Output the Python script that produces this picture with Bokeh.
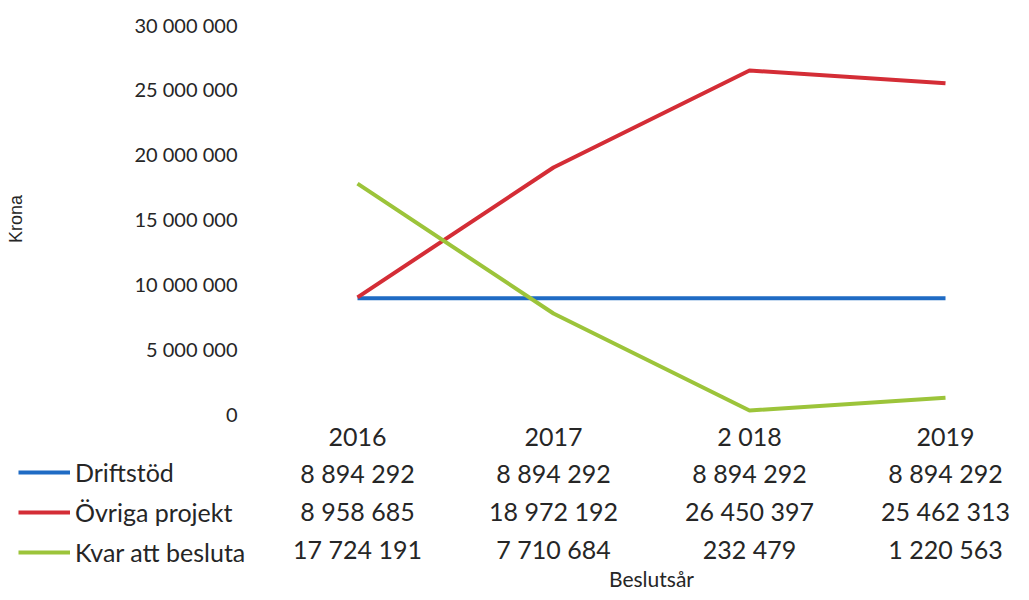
from bokeh.plotting import figure
from bokeh.models import (Range1d, ColumnDataSource, Legend, LegendItem, FixedTicker,
                          LinearAxis)
from bokeh.core.properties import value
from bokeh.embed import file_html
from bokeh.resources import INLINE

# ---- data ----
years = ["2016", "2017", "2 018", "2019"]
series_names = ["Driftstöd", "Övriga projekt", "Kvar att besluta"]
driftstod = [8894292, 8894292, 8894292, 8894292]
ovriga = [8958685, 18972192, 26450397, 25462313]
kvar = [17724191, 7710684, 232479, 1220563]
y_ticks = [0, 5000000, 10000000, 15000000, 20000000, 25000000, 30000000]
colors = ["#1f6bc4", "#d42d36", "#9cc43a"]
x_title = "Beslutsår"
y_title = "Krona"

FONT = "Lato"
TXT = "#262626"

def fmt(v):
    return f"{v:,}".replace(",", " ")

all_series = [driftstod, ovriga, kvar]
xs = list(range(len(years)))
y_max = y_ticks[-1]

# ---- layout constants (pixels) ----
W, H = 1021, 592
plot_left_px = 260        # where the chart area starts
plot_top_px = 24          # pixel of y = y_max
plot_zero_px = 413        # pixel of y = 0
first_cat_px = 357
px_per_cat = 196.0
row_px = [472, 510, 548]  # table rows
legend_dy = 5             # small nudge so legend labels line up with table rows

k_per_px = y_max / (plot_zero_px - plot_top_px)

def px_to_x(px):
    return (px - first_cat_px) / px_per_cat

def px_to_y(py):
    return (plot_zero_px - py) * k_per_px

p = figure(width=W, height=H, output_backend="svg", toolbar_location=None,
           x_range=Range1d(px_to_x(0), px_to_x(W)),
           y_range=Range1d(px_to_y(H), px_to_y(0)),
           x_axis_location=None, y_axis_location=None,
           min_border=0, min_border_left=0, min_border_right=0,
           min_border_top=0, min_border_bottom=0)
p.outline_line_color = None
p.grid.grid_line_color = None

renderers = [p.line(xs, vals, line_color=c, line_width=4)
             for vals, c in zip(all_series, colors)]

# y axis, pinned at the chart's left edge
yaxis = LinearAxis(fixed_location=px_to_x(plot_left_px), bounds=(0, y_max),
                   ticker=FixedTicker(ticks=y_ticks),
                   major_label_overrides={t: fmt(t) for t in y_ticks},
                   axis_line_color=None, major_tick_line_color=None,
                   minor_tick_line_color=None, major_tick_out=0, major_tick_in=0,
                   major_label_text_font=FONT, major_label_text_font_size="20px",
                   major_label_text_color=TXT, major_label_standoff=23,
                   axis_label=y_title, axis_label_text_font="Liberation Sans",
                   axis_label_text_font_style="normal", axis_label_text_font_size="18px",
                   axis_label_text_color=TXT, axis_label_standoff=105)
p.add_layout(yaxis, "left")

# x axis, pinned at y = 0
xaxis = LinearAxis(fixed_location=0, bounds=(xs[0], xs[-1]),
                   ticker=FixedTicker(ticks=xs),
                   major_label_overrides={i: y for i, y in zip(xs, years)},
                   axis_line_color=None, major_tick_line_color=None,
                   minor_tick_line_color=None, major_tick_out=0, major_tick_in=0,
                   major_label_text_font=FONT, major_label_text_font_size="25px",
                   major_label_text_color=TXT, major_label_standoff=7,
                   axis_label=x_title, axis_label_text_font=FONT,
                   axis_label_text_font_style="normal", axis_label_text_font_size="21px",
                   axis_label_text_color=TXT, axis_label_standoff=112)
p.add_layout(xaxis, "below")

# ---- data table ----
tx, ty, tt = [], [], []
for r, vals in enumerate(all_series):
    for i, v in enumerate(vals):
        tx.append(xs[i])
        ty.append(px_to_y(row_px[r]))
        tt.append(fmt(v))
src = ColumnDataSource(dict(x=tx, y=ty, t=tt))
p.text(x="x", y="y", text="t", source=src, text_align="center", text_baseline="middle",
       text_font=value(FONT), text_font_size="25px", text_color=TXT)

# ---- legend keys of the table ----
items = [LegendItem(label=n, renderers=[r]) for n, r in zip(series_names, renderers)]
item_h, gap = 28, 10
legend_top = row_px[0] - item_h // 2 + legend_dy
legend_bottom = legend_top + 3 * item_h + 2 * gap
legend = Legend(items=items, location=(18, H - legend_bottom),
                orientation="vertical", glyph_width=52, glyph_height=item_h,
                label_height=item_h, label_standoff=5, spacing=gap, padding=0, margin=0,
                border_line_color=None, background_fill_alpha=0,
                label_text_font=FONT, label_text_font_size="25px",
                label_text_color=TXT, label_text_baseline="middle")
p.add_layout(legend, "center")

open("out.html", "w").write(file_html(p, INLINE))
